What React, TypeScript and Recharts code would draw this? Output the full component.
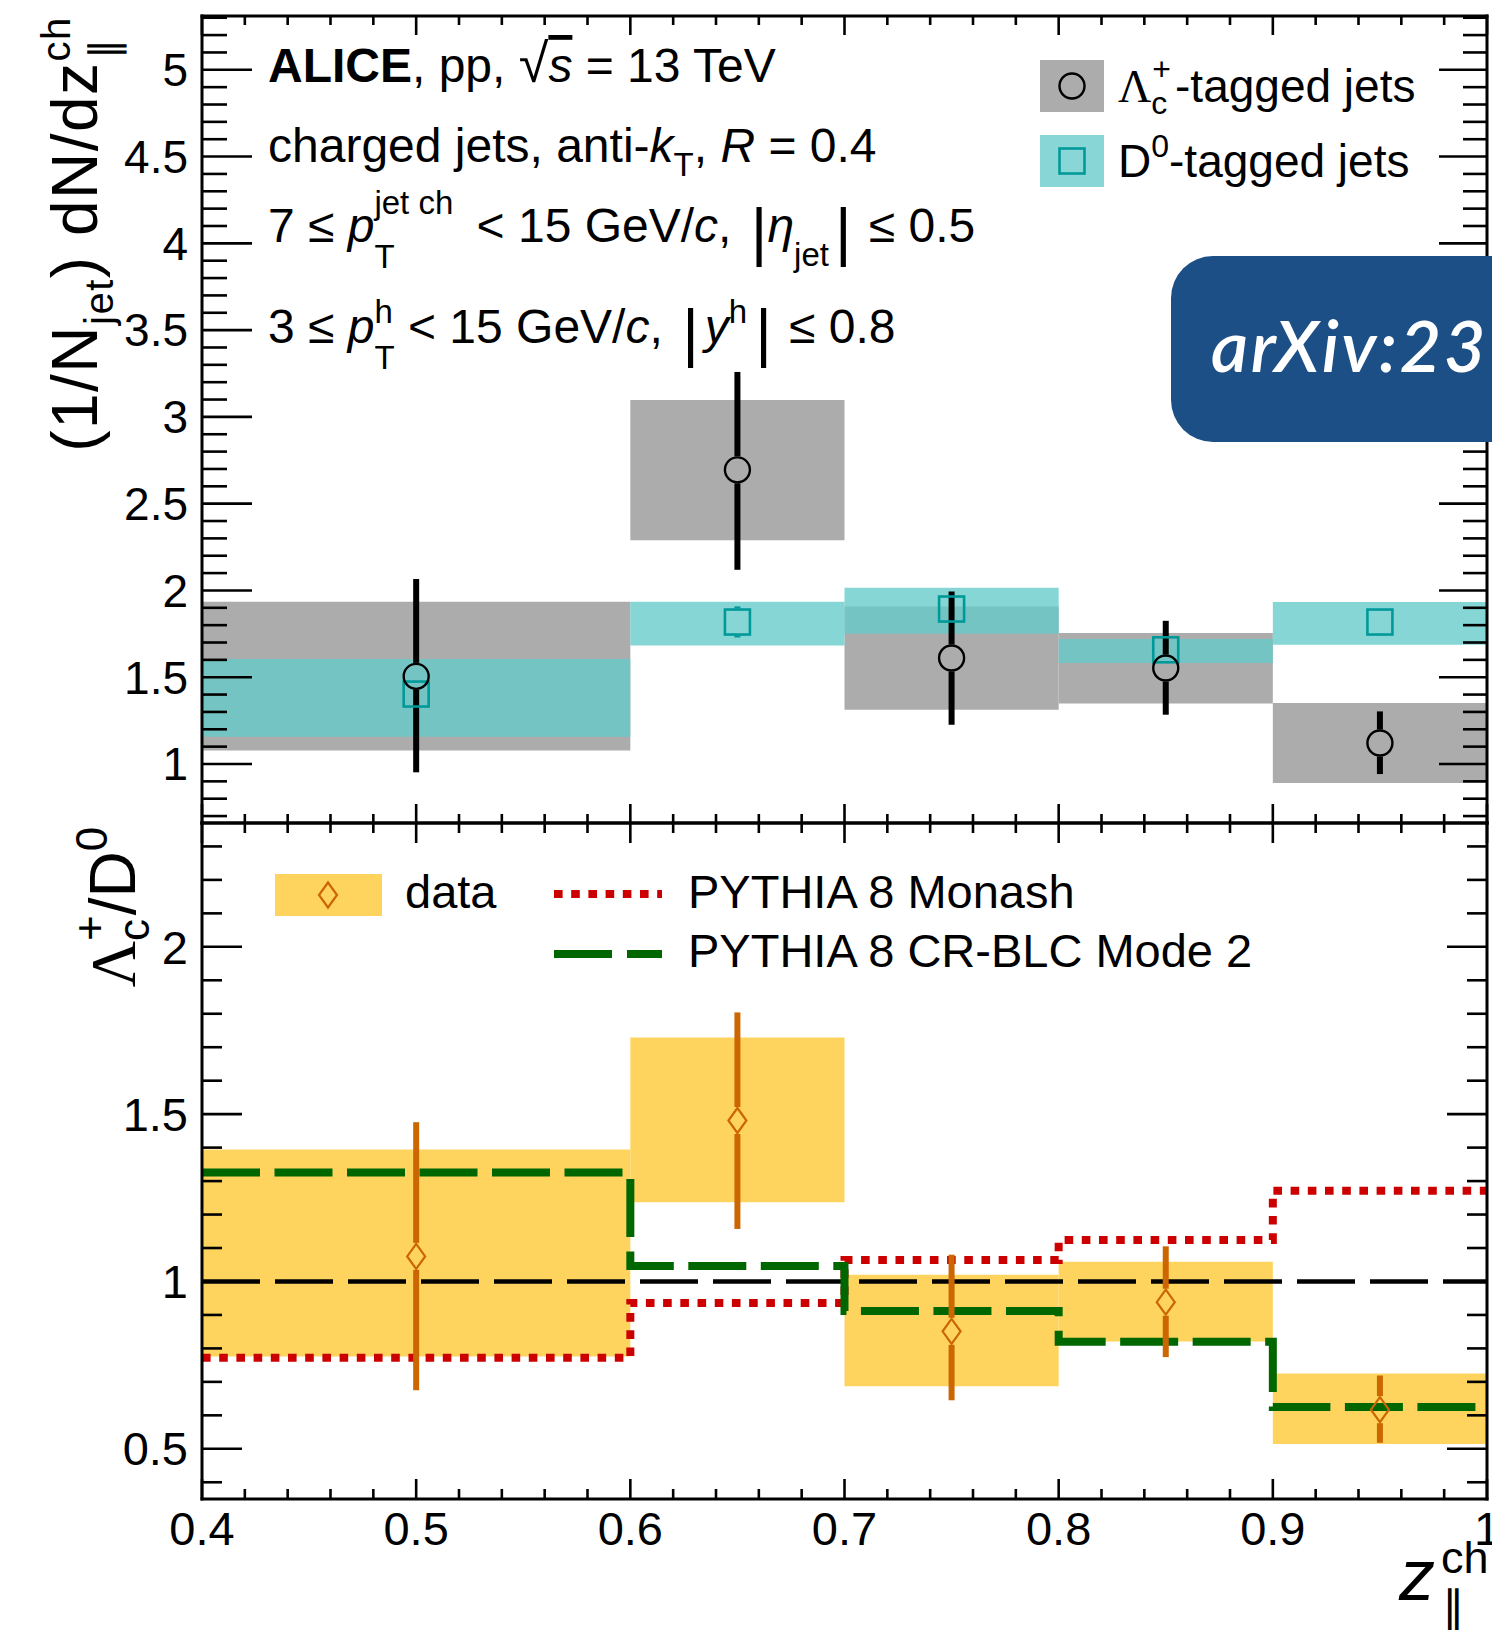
import React from 'react';
import { ComposedChart, XAxis, YAxis, Line, Scatter, ReferenceArea, ReferenceLine } from 'recharts';

// z bins
const binLo = [0.4, 0.6, 0.7, 0.8, 0.9];
const binHi = [0.6, 0.7, 0.8, 0.9, 1.0];
const binMid = [0.5, 0.65, 0.75, 0.85, 0.95];

// Lambda_c-tagged jets (upper panel)
const lcVal = [1.505, 2.695, 1.611, 1.553, 1.121];
const lcStatLo = [0.952, 2.119, 1.226, 1.284, 0.942];
const lcStatHi = [2.066, 3.259, 1.994, 1.825, 1.303];
const lcSysLo = [1.078, 2.289, 1.313, 1.348, 0.891];
const lcSysHi = [1.935, 3.097, 1.908, 1.755, 1.351];

// D0-tagged jets (upper panel)
const d0Val = [1.403, 1.818, 1.893, 1.658, 1.818];
const d0StatLo = [1.35, 1.729, 1.84, 1.61, 1.775];
const d0StatHi = [1.455, 1.908, 1.945, 1.705, 1.86];
const d0SysLo = [1.157, 1.683, 1.751, 1.582, 1.687];
const d0SysHi = [1.605, 1.935, 2.016, 1.72, 1.933];

// Lambda_c / D0 ratio (lower panel)
const ratioVal = [1.075, 1.481, 0.851, 0.938, 0.617];
const ratioStatLo = [0.675, 1.157, 0.645, 0.774, 0.518];
const ratioStatHi = [1.476, 1.804, 1.08, 1.105, 0.719];
const ratioSysLo = [0.776, 1.237, 0.687, 0.821, 0.514];
const ratioSysHi = [1.394, 1.729, 1.02, 1.059, 0.725];
const monash = [0.772, 0.936, 1.064, 1.124, 1.271];
const crblc = [1.326, 1.046, 0.912, 0.82, 0.625];
const stepEdges = [0.4, 0.6, 0.7, 0.8, 0.9, 1.0];

// ticks
const xMajor = [0.4, 0.5, 0.6, 0.7, 0.8, 0.9, 1];
const upMajor = [1, 1.5, 2, 2.5, 3, 3.5, 4, 4.5, 5];
const lowMajor = [0.5, 1, 1.5, 2];

const steps = (from: number, to: number, step: number) => {
  const out: number[] = [];
  for (let i = 0; from + i * step <= to + 1e-9; i++) out.push(Math.round((from + i * step) * 1000) / 1000);
  return out;
};
const xTicks = steps(0.4, 1.0, 0.02);
const upTicks = steps(0.7, 5.3, 0.1);
const lowTicks = steps(0.4, 2.3, 0.1);

// layout
const W = 1492;
const H = 1630;
const PL = 202;
const PR = 1487;
const UT = 16;
const MID = 823;
const LB = 1499;
const UH = 850;
const LTOP = 790;
const LH = H - LTOP;
const UP_DOM: [number, number] = [0.66, 5.31];
const LOW_DOM: [number, number] = [0.35, 2.37];

const SANS = '"Liberation Sans", Arial, Helvetica, sans-serif';
const SERIF = '"Liberation Serif", "Times New Roman", serif';

const GRAY = '#acacac';
const CYAN = '#64cbcb';
const TEAL = '#009999';
const YELLOW = '#fed45e';
const ORANGE = '#cc6600';
const RED = '#cc0000';
const GREEN = '#006600';

const frame = { stroke: '#000', strokeWidth: 3, strokeLinecap: 'square' as const };

const isMajor = (v: number, majors: number[]) => majors.some((m) => Math.abs(m - v) < 1e-6);

type TickOpts = { side: 'left' | 'right' | 'top' | 'bottom'; majors: number[]; majLen: number; minLen: number; fontSize?: number };

const makeTick = (o: TickOpts) => (props: any) => {
  const { x, y, payload } = props;
  const v = payload.value;
  const major = isMajor(v, o.majors);
  const len = major ? o.majLen : o.minLen;
  let x2 = x;
  let y2 = y;
  if (o.side === 'left') x2 = x + len;
  if (o.side === 'right') x2 = x - len;
  if (o.side === 'top') y2 = y + len;
  if (o.side === 'bottom') y2 = y - len;
  const fs = o.fontSize;
  return (
    <g>
      <line x1={x} y1={y} x2={x2} y2={y2} stroke="#000" strokeWidth={2.6} />
      {fs && major && o.side === 'left' && (
        <text x={x - 14} y={y + fs * 0.355} textAnchor="end" fontSize={fs} fontFamily={SANS} fill="#000">
          {String(v)}
        </text>
      )}
      {fs && major && o.side === 'bottom' && (
        <text x={x} y={y + 46} textAnchor="middle" fontSize={fs} fontFamily={SANS} fill="#000">
          {String(v)}
        </text>
      )}
    </g>
  );
};

const CircleMark = (p: any) => <circle cx={p.cx} cy={p.cy} r={12.5} fill="none" stroke="#000" strokeWidth={2.4} />;
const SquareMark = (p: any) => (
  <rect x={p.cx - 12.5} y={p.cy - 12.5} width={25} height={25} fill="none" stroke={TEAL} strokeWidth={2.6} />
);
const DiamondMark = (p: any) => (
  <path
    d={`M${p.cx},${p.cy - 12.5} L${p.cx + 9},${p.cy} L${p.cx},${p.cy + 12.5} L${p.cx - 9},${p.cy} Z`}
    fill="none"
    stroke={ORANGE}
    strokeWidth={2.2}
  />
);
const NoMark = () => <g />;

// stat error bars drawn as two segments, leaving the marker open
const errorSegments = (
  key: string,
  vals: number[],
  lo: number[],
  hi: number[],
  gap: number,
  color: string,
  xId: string,
  yId: string,
) => {
  const out: React.ReactNode[] = [];
  binMid.forEach((m, i) => {
    if (hi[i] > vals[i] + gap)
      out.push(
        <ReferenceLine key={`${key}h${i}`} xAxisId={xId} yAxisId={yId} segment={[{ x: m, y: vals[i] + gap }, { x: m, y: hi[i] }]} stroke={color} strokeWidth={6} zIndex={4} />,
      );
    if (lo[i] < vals[i] - gap)
      out.push(
        <ReferenceLine key={`${key}l${i}`} xAxisId={xId} yAxisId={yId} segment={[{ x: m, y: lo[i] }, { x: m, y: vals[i] - gap }]} stroke={color} strokeWidth={6} zIndex={4} />,
      );
  });
  return out;
};

const boxes = (key: string, lo: number[], hi: number[], fill: string, opacity: number, z: number) =>
  binLo.map((b, i) => (
    <ReferenceArea key={`${key}${i}`} xAxisId="b" yAxisId="l" x1={b} x2={binHi[i]} y1={lo[i]} y2={hi[i]} fill={fill} fillOpacity={opacity} stroke="none" zIndex={z} />
  ));

const lcPoints = binMid.map((x, i) => ({ x, y: lcVal[i] }));
const d0Points = binMid.map((x, i) => ({ x, y: d0Val[i] }));
const ratioPoints = binMid.map((x, i) => ({ x, y: ratioVal[i] }));
const stepData = stepEdges.map((x, i) => ({
  x,
  monash: monash[Math.min(i, monash.length - 1)],
  crblc: crblc[Math.min(i, crblc.length - 1)],
}));

const upGap = 13.5 / ((MID - UT) / (UP_DOM[1] - UP_DOM[0]));
const lowGap = 13.5 / ((LB - MID) / (LOW_DOM[1] - LOW_DOM[0]));

const axesCommon = { type: 'number' as const, allowDataOverflow: true, interval: 0, tickSize: 0, tickMargin: 0, tickLine: false, axisLine: frame };

const UpperPanel = () => (
  <ComposedChart width={W} height={UH} margin={{ top: 0, right: 0, bottom: 0, left: 0 }} data={stepData}>
    <XAxis {...axesCommon} xAxisId="b" dataKey="x" orientation="bottom" domain={[0.4, 1]} ticks={xTicks} height={UH - MID} tick={makeTick({ side: 'bottom', majors: xMajor, majLen: 19, minLen: 9 })} />
    <XAxis {...axesCommon} xAxisId="t" dataKey="x" orientation="top" domain={[0.4, 1]} ticks={xTicks} height={UT} tick={makeTick({ side: 'top', majors: xMajor, majLen: 19, minLen: 9 })} />
    <YAxis {...axesCommon} yAxisId="l" dataKey="y" orientation="left" domain={UP_DOM} ticks={upTicks} width={PL} tick={makeTick({ side: 'left', majors: upMajor, majLen: 50, minLen: 25, fontSize: 46 })} />
    <YAxis {...axesCommon} yAxisId="r" dataKey="y" orientation="right" domain={UP_DOM} ticks={upTicks} width={W - PR} tick={makeTick({ side: 'right', majors: upMajor, majLen: 48, minLen: 24 })} />
    {boxes('lcs', lcSysLo, lcSysHi, GRAY, 1, 1)}
    {boxes('d0s', d0SysLo, d0SysHi, CYAN, 0.78, 2)}
    {errorSegments('d0e', d0Val, d0StatLo, d0StatHi, upGap, TEAL, 'b', 'l')}
    {errorSegments('lce', lcVal, lcStatLo, lcStatHi, upGap, '#000', 'b', 'l')}
    <Scatter xAxisId="b" yAxisId="l" data={d0Points} dataKey="y" shape={SquareMark} isAnimationActive={false} zIndex={5} />
    <Scatter xAxisId="b" yAxisId="l" data={lcPoints} dataKey="y" shape={CircleMark} isAnimationActive={false} zIndex={5} />
    <Scatter xAxisId="t" yAxisId="r" data={lcPoints} dataKey="y" shape={NoMark} isAnimationActive={false} />
  </ComposedChart>
);

const LowerPanel = () => (
  <ComposedChart width={W} height={LH} margin={{ top: 0, right: 0, bottom: 0, left: 0 }} data={stepData}>
    <XAxis {...axesCommon} xAxisId="b" dataKey="x" orientation="bottom" domain={[0.4, 1]} ticks={xTicks} height={LH - (LB - LTOP)} tick={makeTick({ side: 'bottom', majors: xMajor, majLen: 20, minLen: 10, fontSize: 47 })} />
    <XAxis {...axesCommon} xAxisId="t" dataKey="x" orientation="top" domain={[0.4, 1]} ticks={xTicks} height={MID - LTOP} tick={makeTick({ side: 'top', majors: xMajor, majLen: 20, minLen: 10 })} />
    <YAxis {...axesCommon} yAxisId="l" dataKey="y" orientation="left" domain={LOW_DOM} ticks={lowTicks} width={PL} tick={makeTick({ side: 'left', majors: lowMajor, majLen: 40, minLen: 20, fontSize: 47 })} />
    <YAxis {...axesCommon} yAxisId="r" dataKey="y" orientation="right" domain={LOW_DOM} ticks={lowTicks} width={W - PR} tick={makeTick({ side: 'right', majors: lowMajor, majLen: 40, minLen: 20 })} />
    {boxes('rs', ratioSysLo, ratioSysHi, YELLOW, 1, 1)}
    <ReferenceLine xAxisId="b" yAxisId="l" y={1} stroke="#000" strokeWidth={4.5} strokeDasharray="58 15" zIndex={2} />
    <Line xAxisId="b" yAxisId="l" type="stepAfter" dataKey="monash" stroke={RED} strokeWidth={8} strokeDasharray="8.6 8.6" dot={false} activeDot={false} isAnimationActive={false} zIndex={3} />
    <Line xAxisId="b" yAxisId="l" type="stepAfter" dataKey="crblc" stroke={GREEN} strokeWidth={8} strokeDasharray="58 14.5" dot={false} activeDot={false} isAnimationActive={false} zIndex={3} />
    {errorSegments('re', ratioVal, ratioStatLo, ratioStatHi, lowGap, ORANGE, 'b', 'l')}
    <Scatter xAxisId="b" yAxisId="l" data={ratioPoints} dataKey="y" shape={DiamondMark} isAnimationActive={false} zIndex={5} />
    <Scatter xAxisId="t" yAxisId="r" data={ratioPoints} dataKey="y" shape={NoMark} isAnimationActive={false} />
  </ComposedChart>
);

const Overlay = () => (
  <svg width={W} height={H} style={{ position: 'absolute', left: 0, top: 0, pointerEvents: 'none' }} fontFamily={SANS} fill="#000">
    {/* upper y title */}
    <text transform="translate(97, 234) rotate(-90)" textAnchor="middle" fontSize={64} letterSpacing={1.5}>
      (1/N<tspan dy={16} fontSize={40}>jet</tspan>
      <tspan dy={-16}>) dN/dz</tspan>
      <tspan dy={-27} fontSize={40}>ch</tspan>
      <tspan dx={-43} dy={48} fontSize={40}>∥</tspan>
    </text>
    {/* lower y title */}
    <text transform="translate(135, 907) rotate(-90)" textAnchor="middle" fontSize={64}>
      <tspan fontFamily={SERIF}>Λ</tspan>
      <tspan dy={14} fontSize={44}>c</tspan>
      <tspan dx={-22} dy={-44} fontSize={44}>+</tspan>
      <tspan dy={30}>/D</tspan>
      <tspan dy={-28} fontSize={44}>0</tspan>
    </text>
    {/* x title */}
    <text x={1399} y={1600} fontSize={72}>
      <tspan fontStyle="italic">z</tspan>
      <tspan dx={6} dy={-27} fontSize={45}>ch</tspan>
      <tspan dx={-47} dy={50} fontSize={45}>∥</tspan>
    </text>

    {/* annotation */}
    <text x={268} y={82} fontSize={48}>
      <tspan fontWeight="bold">ALICE</tspan>, pp, <tspan fontSize={54}>√</tspan>
      <tspan fontStyle="italic" textDecoration="overline">s</tspan> = 13 TeV
    </text>
    <text x={268} y={162} fontSize={48}>
      charged jets, anti-<tspan fontStyle="italic">k</tspan>
      <tspan dy={14} fontSize={33}>T</tspan>
      <tspan dy={-14}>, </tspan>
      <tspan fontStyle="italic">R</tspan> = 0.4
    </text>
    <text x={268} y={242} fontSize={48}>
      7 ≤ <tspan fontStyle="italic">p</tspan>
      <tspan dy={26} fontSize={33}>T</tspan>
      <tspan dx={-20.2} dy={-54} fontSize={33}>jet ch</tspan>
      <tspan dx={10} dy={28}> &lt; 15 GeV/</tspan>
      <tspan fontStyle="italic">c</tspan>,{' '}
      <tspan fontSize={64} dy={12} dx={6}>|</tspan>
      <tspan dy={-12} fontStyle="italic">η</tspan>
      <tspan dy={24} fontSize={33}>jet</tspan>
      <tspan dy={-12} dx={6} fontSize={64}>|</tspan>
      <tspan dy={-12} dx={4}> ≤ 0.5</tspan>
    </text>
    <text x={268} y={343} fontSize={48}>
      3 ≤ <tspan fontStyle="italic">p</tspan>
      <tspan dy={-20} fontSize={33}>h</tspan>
      <tspan dx={-18.3} dy={46} fontSize={33}>T</tspan>
      <tspan dy={-26}> &lt; 15 GeV/</tspan>
      <tspan fontStyle="italic">c</tspan>,{' '}
      <tspan fontSize={64} dy={12} dx={6}>|</tspan>
      <tspan dy={-12} dx={6} fontStyle="italic">y</tspan>
      <tspan dy={-20} fontSize={33}>h</tspan>
      <tspan dy={32} dx={8} fontSize={64}>|</tspan>
      <tspan dy={-12} dx={4}> ≤ 0.8</tspan>
    </text>

    {/* upper legend */}
    <rect x={1040} y={60} width={64} height={52} fill={GRAY} />
    <circle cx={1072} cy={86} r={12.5} fill="none" stroke="#000" strokeWidth={2.4} />
    <rect x={1040} y={135} width={64} height={52} fill="#88d6d6" />
    <rect x={1059.5} y={148.5} width={25} height={25} fill="none" stroke={TEAL} strokeWidth={2.6} />
    <text x={1118} y={102} fontSize={46}>
      <tspan fontFamily={SERIF}>Λ</tspan>
      <tspan dy={12} fontSize={32}>c</tspan>
      <tspan dx={-15} dy={-34} fontSize={32}>+</tspan>
      <tspan dx={4} dy={22}>-tagged jets</tspan>
    </text>
    <text x={1118} y={177} fontSize={46}>
      D<tspan dy={-20} fontSize={32}>0</tspan>
      <tspan dy={20}>-tagged jets</tspan>
    </text>

    {/* arXiv badge */}
    <rect x={1171} y={256} width={420} height={186} rx={42} ry={42} fill="#1b4f86" />
    <text x={1211} y={372} fontSize={72} fill="#fff" fontStyle="italic" fontWeight={600} letterSpacing={2.5} fontFamily='Lato, "Open Sans", sans-serif'>
      arXiv:23
    </text>

    {/* lower legend */}
    <rect x={275} y={874} width={107} height={42} fill={YELLOW} />
    <path d="M328,882.5 L337,895 L328,907.5 L319,895 Z" fill="none" stroke={ORANGE} strokeWidth={2.2} />
    <text x={405} y={908} fontSize={47}>data</text>
    <line x1={554} y1={894} x2={662} y2={894} stroke={RED} strokeWidth={8} strokeDasharray="8.6 8.6" />
    <text x={688} y={908} fontSize={47}>PYTHIA 8 Monash</text>
    <line x1={554} y1={954} x2={662} y2={954} stroke={GREEN} strokeWidth={8} strokeDasharray="58 15" />
    <text x={688} y={967} fontSize={47}>PYTHIA 8 CR-BLC Mode 2</text>
  </svg>
);

export default function App() {
  return (
    <div style={{ position: 'absolute', left: 0, top: 0, width: W, height: H, overflow: 'hidden', background: '#fff', fontFamily: SANS }}>
      <div style={{ position: 'absolute', left: 0, top: 0 }}>
        <UpperPanel />
      </div>
      <div style={{ position: 'absolute', left: 0, top: LTOP }}>
        <LowerPanel />
      </div>
      <Overlay />
    </div>
  );
}
